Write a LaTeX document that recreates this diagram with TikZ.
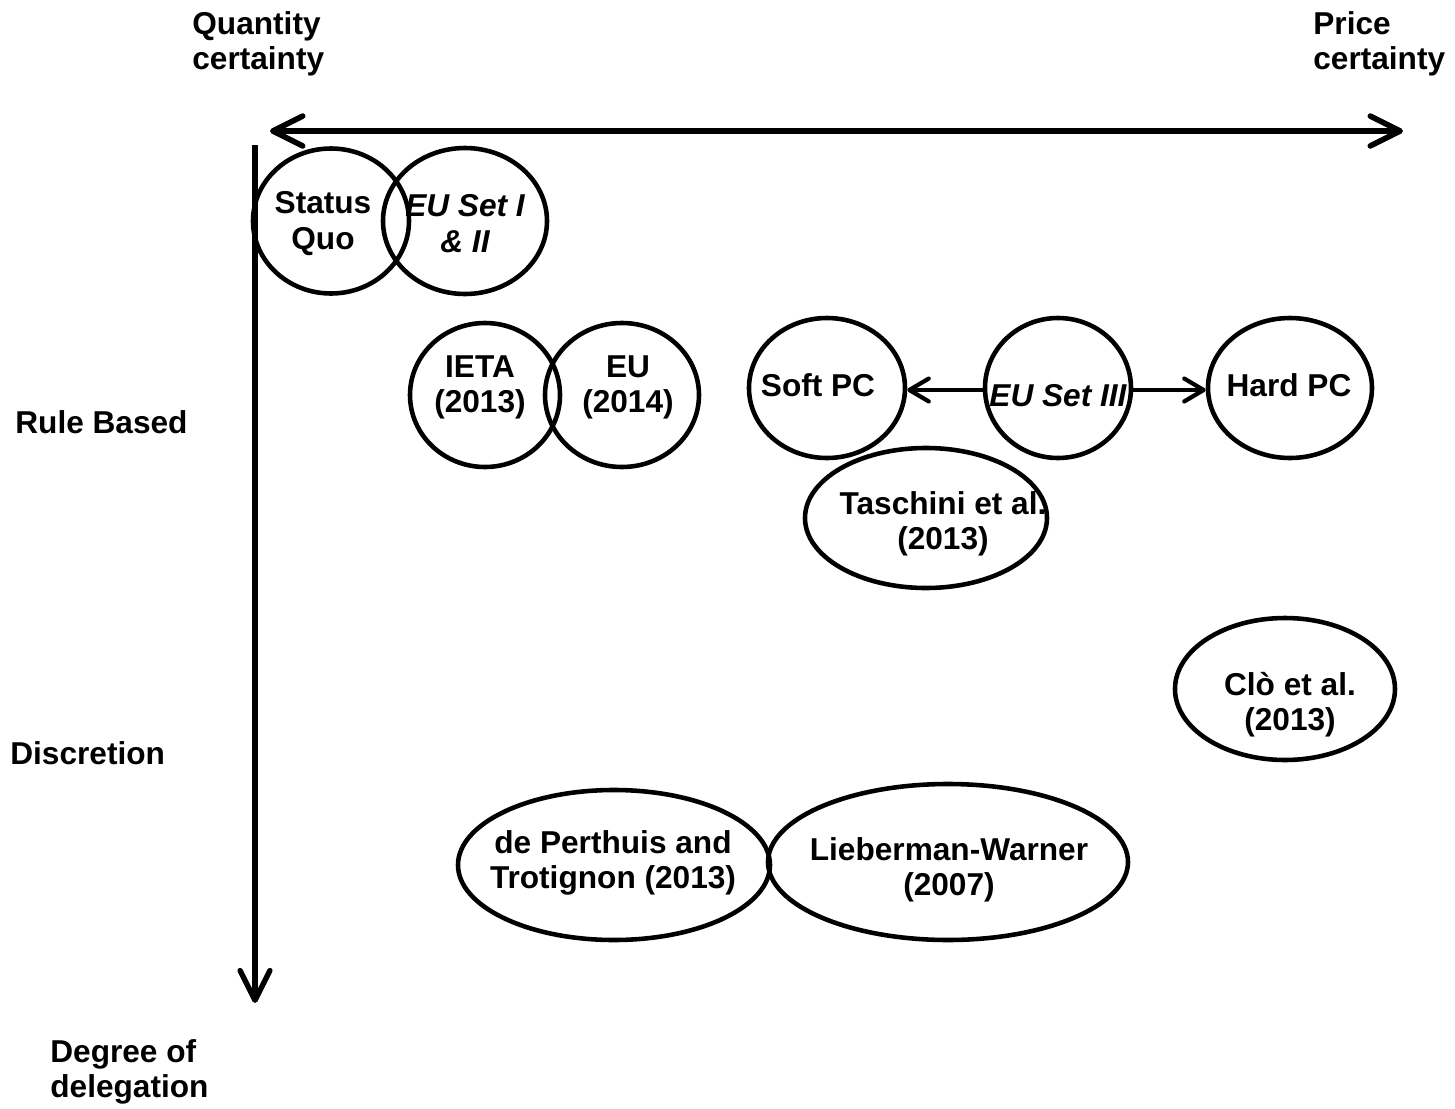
\documentclass[tikz,border=0pt]{standalone}
\usepackage{fontspec}
\setmainfont{Liberation Sans}
\usetikzlibrary{shapes.geometric,arrows.meta}
\tikzset{
  oval/.style={ellipse,draw,line width=2.6pt,inner sep=0pt},
  txt/.style={align=center,inner sep=0pt,yshift=-1.5pt,font=\fontsize{18}{20}\selectfont\bfseries},
  axisarrow/.style={line width=3.2pt,{Straight Barb[round,length=17pt,width=17pt]}-{Straight Barb[round,length=17pt,width=17pt]}},
  linkarrow/.style={line width=2.4pt,-{Straight Barb[round,length=11pt,width=13pt]}}
}
\begin{document}
\begin{tikzpicture}[x=0.02cm,y=-0.02cm]
                \useasboundingbox (0,0) rectangle (1455,1109);
                % axes
                \coordinate (hl) at (270,131);
                \coordinate (hr) at (1403,131);
                \coordinate (vt) at (255,145);
                \coordinate (vb) at (255,1003);
                \draw[axisarrow] (hl) -- (hr);
                \draw[line width=3pt,-{Straight Barb[round,length=17pt,width=17pt]}] (vt) -- (vb);

                \path (192,41) node[txt,anchor=west,align=left] (qc) {Quantity\\certainty};
                \path (1313,41) node[txt,anchor=west,align=left] (pc) {Price\\certainty};
                \path (15,420) node[txt,anchor=west] (rb) {Rule Based};
                \path (10,751) node[txt,anchor=west] (dis) {Discretion};
                \path (50,1069) node[txt,anchor=west,align=left] (deg) {Degree of\\delegation};

                % ovals
                \path (331,221) node[oval,minimum width=156*0.02cm,minimum height=145*0.02cm] (SQ) {};
                \path (465,221) node[oval,minimum width=164*0.02cm,minimum height=146*0.02cm] (EUa) {};
                \path (485,395) node[oval,minimum width=150*0.02cm,minimum height=144*0.02cm] (IETA) {};
                \path (622,395) node[oval,minimum width=154*0.02cm,minimum height=144*0.02cm] (EUb) {};
                \path (827,388) node[oval,minimum width=156*0.02cm,minimum height=140*0.02cm] (SPC) {};
                \path (1058,388) node[oval,minimum width=146*0.02cm,minimum height=140*0.02cm] (EUc) {};
                \path (1290,388) node[oval,minimum width=164*0.02cm,minimum height=140*0.02cm] (HPC) {};
                \path (926,518) node[oval,minimum width=242*0.02cm,minimum height=140*0.02cm] (TA) {};
                \path (1285,689) node[oval,minimum width=220*0.02cm,minimum height=142*0.02cm] (CLO) {};
                \path (614,865) node[oval,minimum width=312*0.02cm,minimum height=150*0.02cm] (DPT) {};
                \path (948,862) node[oval,minimum width=360*0.02cm,minimum height=156*0.02cm] (LW) {};

                \path (323,221) node[txt] (tSQ) {Status\\Quo};
                \path (465,221) node[txt] (tEUa) {\itshape EU Set I\\\itshape \& II};
                \path (480,385) node[txt] (tIETA) {IETA\\(2013)};
                \path (628,385) node[txt] (tEUb) {EU\\(2014)};
                \path (818,383) node[txt] (tSPC) {Soft PC};
                \path (1058,393) node[txt] (tEUc) {\itshape EU Set III};
                \path (1289,383) node[txt] (tHPC) {Hard PC};
                \path (943,521) node[txt] (tTA) {Taschini et al.\\(2013)};
                \path (1290,702) node[txt] (tCLO) {Clò et al.\\(2013)};
                \path (613,860) node[txt] (tDPT) {de Perthuis and\\Trotignon (2013)};
                \path (949,867) node[txt] (tLW) {Lieberman-Warner\\(2007)};

                \draw[linkarrow] (EUc.west |- 0,390) -- (SPC.east |- 0,390);
                \draw[linkarrow] (EUc.east |- 0,390) -- (HPC.west |- 0,390);
              \end{tikzpicture}
\end{document}
